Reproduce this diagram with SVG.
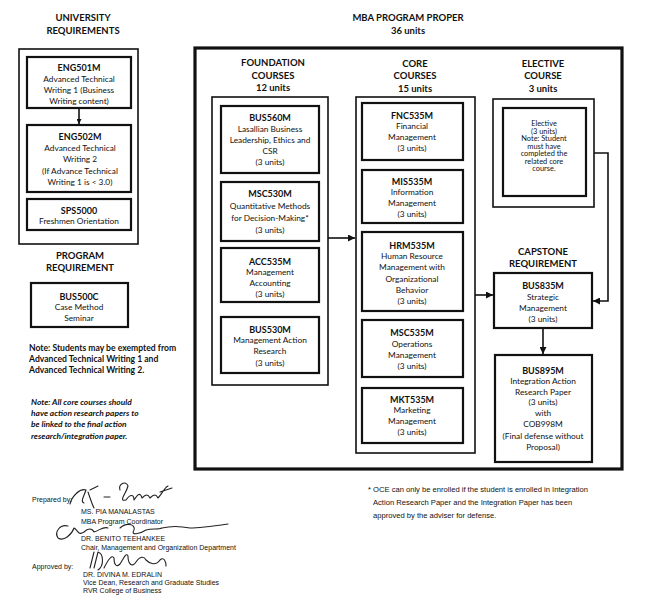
<svg xmlns="http://www.w3.org/2000/svg" width="650" height="609" viewBox="0 0 650 609">
<style>
text{font-family:Lato,"Open Sans","Liberation Sans",sans-serif;fill:#111;dominant-baseline:central}
.h{font-size:9.5px;font-weight:bold;text-anchor:middle}
.c{font-size:9px;font-weight:bold;text-anchor:middle}
.d{font-size:8.3px;text-anchor:middle}
.e{font-size:7.4px;text-anchor:middle}
.n{font-size:8.6px;font-weight:bold}
.ni{font-size:8.4px;font-weight:bold;font-style:italic}
.s{font-family:"Liberation Sans",Arial,sans-serif;font-size:7px}
.f{font-family:"Liberation Sans",Arial,sans-serif;font-size:7.6px}
.box{fill:#fff;stroke:#111;stroke-width:2.2}
.grp{fill:none;stroke:#111;stroke-width:1.6}
.main{fill:none;stroke:#111;stroke-width:3.2}
.ln{fill:none;stroke:#111;stroke-width:1.6}
.sig{fill:none;stroke:#222;stroke-width:1.1;stroke-linecap:round;stroke-linejoin:round}
</style>
<defs>
<marker id="ah" viewBox="0 0 10 10" refX="10" refY="5" markerWidth="5" markerHeight="5" orient="auto" markerUnits="userSpaceOnUse">
<path d="M0,0 L10,5 L0,10 z" fill="#111"/>
</marker>
<marker id="ahl" viewBox="0 0 10 10" refX="10" refY="5" markerWidth="7" markerHeight="7" orient="auto" markerUnits="userSpaceOnUse">
<path d="M0,0 L10,5 L0,10 z" fill="#111"/>
</marker>
</defs>
<rect width="650" height="609" fill="#fff"/>

<!-- University requirements -->
<g id="univ-title">
<text class="h" x="83" y="17">UNIVERSITY</text>
<text class="h" x="83" y="30">REQUIREMENTS</text>
</g>
<g id="univ-group"><rect class="grp" x="19" y="49" width="119" height="195"/></g>
<g id="ENG501M">
<rect class="box" x="27" y="57" width="104" height="51"/>
<text class="c" x="79" y="67">ENG501M</text>
<text class="d" x="79" y="79">Advanced Technical</text>
<text class="d" x="79" y="90">Writing 1 (Business</text>
<text class="d" x="79" y="101">Writing content)</text>
</g>
<g id="ENG502M">
<rect class="box" x="27" y="125" width="104" height="67"/>
<text class="c" x="80" y="136">ENG502M</text>
<text class="d" x="80" y="148">Advanced Technical</text>
<text class="d" x="80" y="159">Writing 2</text>
<text class="d" x="80" y="171">(If Advance Technical</text>
<text class="d" x="80" y="182">Writing 1 is  &lt; 3.0)</text>
</g>
<g id="SPS5000">
<rect class="box" x="27" y="199" width="104" height="31"/>
<text class="c" x="79" y="210">SPS5000</text>
<text class="d" x="79" y="221">Freshmen Orientation</text>
</g>
<g id="prog-title">
<text class="h" x="80" y="255">PROGRAM</text>
<text class="h" x="80" y="267">REQUIREMENT</text>
</g>
<g id="BUS500C">
<rect class="box" x="31" y="283" width="97" height="44"/>
<text class="c" x="79" y="296">BUS500C</text>
<text class="d" x="79" y="307">Case Method</text>
<text class="d" x="79" y="318">Seminar</text>
</g>
<g id="note1">
<text class="n" x="29" y="348">Note:  Students may be exempted from</text>
<text class="n" x="29" y="359">Advanced Technical Writing 1  and</text>
<text class="n" x="29" y="370">Advanced Technical Writing 2.</text>
</g>
<g id="note2">
<text class="ni" x="31" y="402">Note: All core courses should</text>
<text class="ni" x="31" y="413">have action research papers to</text>
<text class="ni" x="31" y="424">be linked to the final action</text>
<text class="ni" x="31" y="436">research/integration paper.</text>
</g>

<!-- MBA program proper -->
<g id="mba-title">
<text class="h" x="408" y="17">MBA PROGRAM PROPER</text>
<text class="h" x="408" y="30">36 units</text>
</g>
<g id="mba-group"><rect class="main" x="195" y="48" width="427" height="421"/></g>

<g id="found-title">
<text class="h" x="273" y="62">FOUNDATION</text>
<text class="h" x="273" y="75">COURSES</text>
<text class="h" x="273" y="87">12 units</text>
</g>
<g id="found-group"><rect class="grp" x="212" y="97" width="116" height="288"/></g>
<g id="BUS560M">
<rect class="box" x="221" y="106" width="98" height="67"/>
<text class="c" x="270" y="117">BUS560M</text>
<text class="d" x="270" y="129">Lasallian Business</text>
<text class="d" x="270" y="140">Leadership, Ethics and</text>
<text class="d" x="270" y="151">CSR</text>
<text class="d" x="270" y="162">(3 units)</text>
</g>
<g id="MSC530M">
<rect class="box" x="221" y="182" width="98" height="59"/>
<text class="c" x="270" y="193">MSC530M</text>
<text class="d" x="270" y="206">Quantitative Methods</text>
<text class="d" x="270" y="218">for Decision-Making*</text>
<text class="d" x="270" y="230">(3 units)</text>
</g>
<g id="ACC535M">
<rect class="box" x="221" y="248" width="98" height="54"/>
<text class="c" x="270" y="261">ACC535M</text>
<text class="d" x="270" y="272">Management</text>
<text class="d" x="270" y="283">Accounting</text>
<text class="d" x="270" y="294">(3 units)</text>
</g>
<g id="BUS530M">
<rect class="box" x="221" y="317" width="98" height="56"/>
<text class="c" x="270" y="329">BUS530M</text>
<text class="d" x="270" y="340">Management Action</text>
<text class="d" x="270" y="351">Research</text>
<text class="d" x="270" y="363">(3 units)</text>
</g>

<g id="core-title">
<text class="h" x="415" y="63">CORE</text>
<text class="h" x="415" y="75">COURSES</text>
<text class="h" x="415" y="88">15 units</text>
</g>
<g id="core-group"><rect class="grp" x="356" y="97" width="119" height="356"/></g>
<g id="FNC535M">
<rect class="box" x="362" y="103" width="101" height="57"/>
<text class="c" x="412" y="115">FNC535M</text>
<text class="d" x="412" y="126">Financial</text>
<text class="d" x="412" y="137">Management</text>
<text class="d" x="412" y="148">(3 units)</text>
</g>
<g id="MIS535M">
<rect class="box" x="362" y="170" width="101" height="53"/>
<text class="c" x="412" y="181">MIS535M</text>
<text class="d" x="412" y="192">Information</text>
<text class="d" x="412" y="203">Management</text>
<text class="d" x="412" y="214">(3 units)</text>
</g>
<g id="HRM535M">
<rect class="box" x="362" y="232" width="101" height="79"/>
<text class="c" x="412" y="245">HRM535M</text>
<text class="d" x="412" y="256">Human Resource</text>
<text class="d" x="412" y="267">Management with</text>
<text class="d" x="412" y="279">Organizational</text>
<text class="d" x="412" y="290">Behavior</text>
<text class="d" x="412" y="301">(3 units)</text>
</g>
<g id="MSC535M">
<rect class="box" x="362" y="320" width="101" height="57"/>
<text class="c" x="412" y="332">MSC535M</text>
<text class="d" x="412" y="344">Operations</text>
<text class="d" x="412" y="355">Management</text>
<text class="d" x="412" y="366">(3 units)</text>
</g>
<g id="MKT535M">
<rect class="box" x="362" y="388" width="101" height="55"/>
<text class="c" x="412" y="399">MKT535M</text>
<text class="d" x="412" y="410">Marketing</text>
<text class="d" x="412" y="421">Management</text>
<text class="d" x="412" y="432">(3 units)</text>
</g>

<g id="elective-title">
<text class="h" x="543" y="63">ELECTIVE</text>
<text class="h" x="543" y="75">COURSE</text>
<text class="h" x="543" y="88">3 units</text>
</g>
<g id="elective-group"><rect class="grp" x="493" y="99" width="101" height="108"/></g>
<g id="Elective">
<rect class="box" x="503" y="108" width="83" height="88"/>
<text class="e" x="544" y="123">Elective</text>
<text class="e" x="544" y="131">(3 units)</text>
<text class="e" x="544" y="138.5">Note: Student</text>
<text class="e" x="544" y="146">must have</text>
<text class="e" x="544" y="153.5">completed the</text>
<text class="e" x="544" y="161">related core</text>
<text class="e" x="544" y="168.5">course.</text>
</g>

<g id="capstone-title">
<text class="h" x="543" y="251">CAPSTONE</text>
<text class="h" x="543" y="263">REQUIREMENT</text>
</g>
<g id="BUS835M">
<rect class="box" x="494" y="273" width="98" height="55"/>
<text class="c" x="543" y="285">BUS835M</text>
<text class="d" x="543" y="297">Strategic</text>
<text class="d" x="543" y="308">Management</text>
<text class="d" x="543" y="319">(3 units)</text>
</g>
<g id="BUS895M">
<rect class="box" x="495" y="355" width="97" height="107"/>
<text class="c" x="543" y="370">BUS895M</text>
<text class="d" x="543" y="381">Integration Action</text>
<text class="d" x="543" y="392">Research Paper</text>
<text class="d" x="543" y="402">(3 units)</text>
<text class="d" x="543" y="413">with</text>
<text class="d" x="543" y="424">COB998M</text>
<text class="d" x="543" y="436">(Final defense without</text>
<text class="d" x="543" y="447">Proposal)</text>
</g>

<!-- Connectors -->
<g id="connectors">
<line class="ln" x1="79" y1="108" x2="79" y2="124" marker-end="url(#ah)"/>
<line class="ln" x1="328" y1="238" x2="355" y2="238" marker-end="url(#ahl)"/>
<line class="ln" x1="475" y1="295" x2="493" y2="295" marker-end="url(#ahl)"/>
<path class="ln" d="M594,153 H608 V301 H593" marker-end="url(#ahl)"/>
<line class="ln" x1="543" y1="328" x2="543" y2="354" marker-end="url(#ahl)"/>
</g>

<!-- Signatures block -->
<g id="signatures">
<text class="s" x="32" y="499">Prepared by:</text>
<text class="s" x="81" y="511">MS. PIA MANALASTAS</text>
<text class="s" x="81" y="521">MBA Program Coordinator</text>
<text class="s" x="81" y="538">DR. BENITO TEEHANKEE</text>
<text class="s" x="81" y="547">Chair, Management and Organization Department</text>
<text class="s" x="32" y="566">Approved by:</text>
<text class="s" x="83" y="574">DR. DIVINA M. EDRALIN</text>
<text class="s" x="83" y="582">Vice Dean, Research and Graduate Studies</text>
<text class="s" x="83" y="590">RVR College of Business</text>
<path class="sig" d="M70,504 C72,496 80,488 86,490 C84,496 80,502 84,503 M88,492 C90,498 92,504 94,508 M90,490 L98,486 M104,497 L110,497 M120,490 C118,484 126,480 128,486 C126,494 118,502 126,500 C130,494 134,494 134,500 C138,494 140,492 142,498 C146,494 148,494 150,498 C154,494 156,494 158,498 C162,494 164,488 168,486 M160,492 L172,488"/>
<path class="sig" d="M68,526 C60,524 54,532 58,538 C64,542 72,534 74,528 C78,530 78,536 84,532 C88,528 92,528 94,532 C100,530 104,526 108,528 M120,528 C126,522 136,524 134,530 C130,536 140,534 146,530 C152,528 158,530 162,528 C170,526 180,526 190,528 C200,528 214,526 228,524"/>
<path class="sig" d="M90,568 L94,552 M94,568 L98,552 C104,554 104,566 98,570 M104,568 C108,560 112,554 114,558 C114,564 116,568 120,564 C124,558 126,552 128,556 C128,564 132,568 136,562 C140,556 144,556 146,560 C150,564 156,566 160,560 C164,556 166,562 166,566"/>
</g>

<!-- Footnote -->
<g id="footnote">
<text class="f" x="368" y="489">* OCE can only be enrolled if the student is enrolled in Integration</text>
<text class="f" x="373" y="502">Action Research Paper and the Integration Paper has been</text>
<text class="f" x="373" y="515">approved by the adviser for defense.</text>
</g>
</svg>
